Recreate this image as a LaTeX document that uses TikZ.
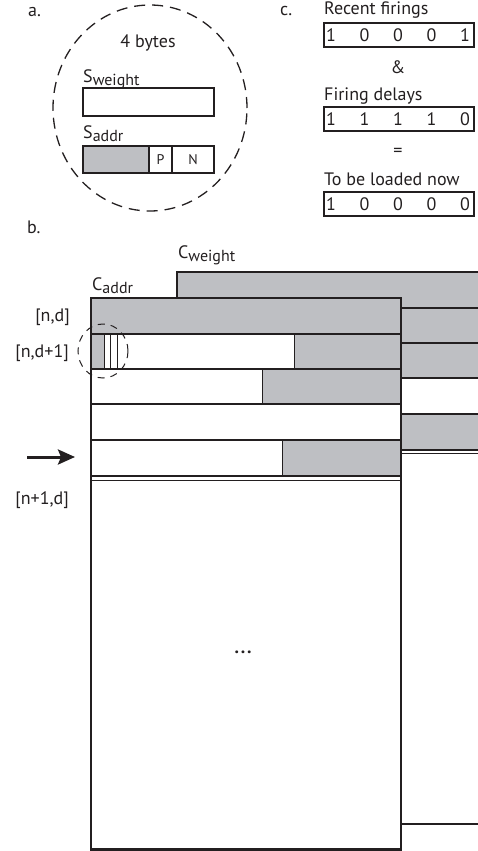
\documentclass[tikz,border=0pt]{standalone}
\usepackage{fontspec}
\setmainfont{PT Sans}
\usetikzlibrary{arrows.meta}
\definecolor{ink}{RGB}{35,31,32}
\definecolor{cellgray}{RGB}{190,191,195}
% lowered, slightly smaller text used for the subscripts of S and C
\newcommand\lowtext[1]{\raisebox{-3pt}{\fontsize{16}{18}\selectfont #1}}
\begin{document}
\begin{tikzpicture}[x=1pt,y=-1pt,
  txt/.style={inner sep=0pt, text=ink, font=\fontsize{18}{21}\selectfont},
  bitlabel/.style={inner sep=0pt, text=ink, font=\fontsize{14}{16}\selectfont},
  thinbox/.style={draw=ink, line width=1.2pt},
  heavy/.style={draw=ink, line width=2.6pt},
  rowline/.style={draw=ink, line width=2pt},
  doubleline/.style={draw=ink, line width=1.6pt},
  cellline/.style={draw=ink, line width=1pt}]
\useasboundingbox (0,0) rectangle (477,851);

% ---------- a. one synapse, 4 bytes ----------
\node[txt, anchor=base west] (labela) at (28,17) {a.};
\draw[ink, line width=1.3pt, dash pattern=on 11pt off 7pt]
  (150,108) ellipse [x radius=97pt, y radius=103pt];
\node[txt, anchor=base] (bytes) at (148,48) {4 bytes};
\node[txt, anchor=base west] (sweight) at (83,82) {S\lowtext{weight}};
\draw[thinbox] (83,88) rectangle (214,116);
\node[txt, anchor=base west] (saddr) at (83,138) {S\lowtext{addr}};
\fill[cellgray] (83,146) rectangle (149,173);
\draw[thinbox] (83,146) rectangle (214,173);
\draw[thinbox] (149,146) -- (149,173) (172,146) -- (172,173);
\node[bitlabel] (pbit) at (160.5,160) {P};
\node[bitlabel] (nbit) at (193,160) {N};

% ---------- c. bit masks ----------
\node[txt, anchor=base west] (labelc) at (280,16) {c.};
\node[txt, anchor=base west] (recent) at (324,15) {Recent firings};
\draw[thinbox] (324,23) rectangle (474,47);
\foreach \d [count=\i] in {1,0,0,0,1}
  \node[txt] (recent\i) at ({331+(\i-1)*33.5},35) {\d};
\node[txt] (andop) at (398,67) {\&};
\node[txt, anchor=base west] (delays) at (324,100) {Firing delays};
\draw[thinbox] (324,107) rectangle (474,131);
\foreach \d [count=\i] in {1,1,1,1,0}
  \node[txt] (delay\i) at ({331+(\i-1)*33.5},119) {\d};
\node[txt] (eqop) at (398,152) {=};
\node[txt, anchor=base west] (loaded) at (324,185) {To be loaded now};
\draw[thinbox] (324,192) rectangle (474,216);
\foreach \d [count=\i] in {1,0,0,0,0}
  \node[txt] (load\i) at ({331+(\i-1)*33.5},204) {\d};

% ---------- b. C_weight block (behind) ----------
\node[txt, anchor=base west] (labelb) at (27,233) {b.};
\fill[white] (177,272) rectangle (480,824);
\fill[cellgray] (177,272) rectangle (480,378);
\fill[cellgray] (401,414) rectangle (480,450);
\foreach \yy in {308,343,378,414}
  \draw[rowline] (401,\yy) -- (480,\yy);
\draw[doubleline] (401,450) -- (480,450) (401,453.5) -- (480,453.5);
\draw[heavy] (480,272) -- (177,272) -- (177,300);
\draw[heavy] (401,824) -- (480,824);
\node[txt, anchor=base west] (cweight) at (178,258) {C\lowtext{weight}};

% ---------- b. C_addr block (front) ----------
\node[txt, anchor=base west] (caddr) at (92,290) {C\lowtext{addr}};
\fill[white] (91,298) rectangle (401,849.5);
\fill[cellgray] (91,298) rectangle (401,334);
\fill[cellgray] (91,334) rectangle (104,369);
\fill[cellgray] (294,334) rectangle (401,369);
\fill[cellgray] (262,369) rectangle (401,404);
\fill[cellgray] (282,440) rectangle (401,475);
\foreach \yy in {334,369,404,440}
  \draw[rowline] (91,\yy) -- (401,\yy);
\draw[doubleline] (91,476) -- (401,476) (91,480.5) -- (401,480.5);
\draw[cellline] (104,334) -- (104,369) (110,334) -- (110,369) (117,334) -- (117,369)
  (294,334) -- (294,369) (262,369) -- (262,404) (282,440) -- (282,475);
\draw[heavy] (91,298) rectangle (401,849.5);
\node[txt, font=\fontsize{18}{21}\selectfont\bfseries] (dots) at (243,652) {.\hspace{1.8pt}.\hspace{1.8pt}.};

% row labels and pointer
\node[txt, anchor=east] (rownd) at (70,317) {[n,d]};
\node[txt, anchor=east] (rowndnext) at (69,353) {[n,d+1]};
\node[txt, anchor=east] (rownextd) at (69,500) {[n+1,d]};
\coordinate (arrowtail) at (27,457);
\coordinate (arrowtip) at (75,457);
\draw[ink, line width=3pt, -{Stealth[length=17pt,width=15pt,inset=3pt]}]
  (arrowtail) -- (arrowtip);

% zoomed synapse marker
\draw[ink, line width=1pt, dash pattern=on 7pt off 6pt]
  (103,351) ellipse [x radius=25pt, y radius=27pt];
\end{tikzpicture}
\end{document}
